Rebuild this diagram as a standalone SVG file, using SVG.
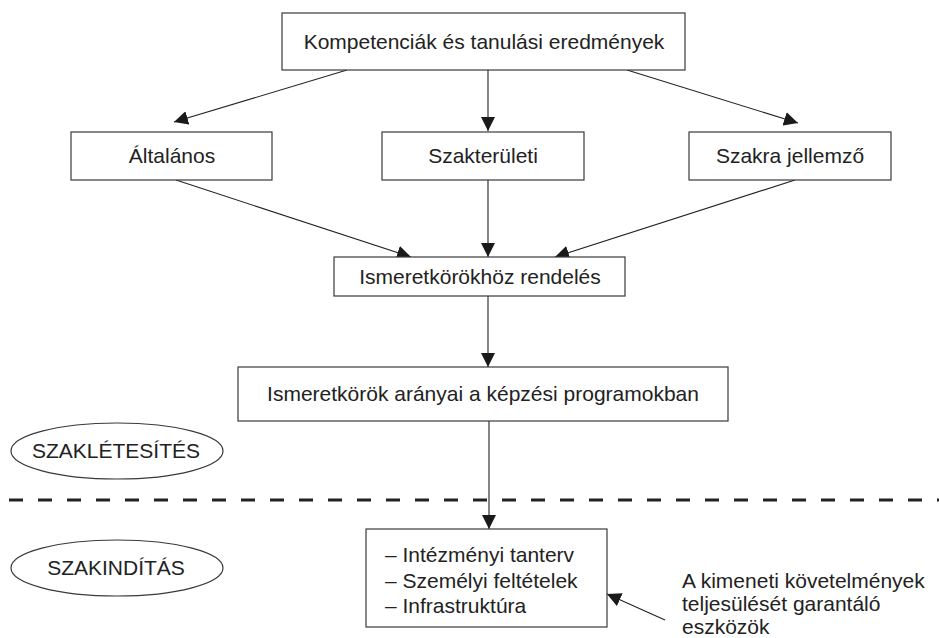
<svg xmlns="http://www.w3.org/2000/svg" width="939" height="638" viewBox="0 0 939 638">
  <defs>
    <marker id="arr" markerUnits="userSpaceOnUse" markerWidth="14" markerHeight="14" viewBox="0 0 13 13" refX="13" refY="6.5" orient="auto">
      <path d="M0,0 L13,6.5 L0,13 z" fill="#1a1a1a"/>
    </marker>
  </defs>
  <style>
    .box { fill: #fff; stroke: #3a3a3a; stroke-width: 1.2; }
    .t { font-family: "Liberation Sans", Arial, Helvetica, sans-serif; font-size: 21px; fill: #222; }
    .c { text-anchor: middle; }
    .ln { stroke: #222; stroke-width: 1.1; fill: none; }
    .arw { marker-end: url(#arr); }
  </style>
  <rect width="939" height="638" fill="#fff"/>

  <g id="connectors">
    <line class="ln arw" x1="347" y1="70" x2="174" y2="122"/>
    <line class="ln arw" x1="488" y1="70" x2="488" y2="131"/>
    <line class="ln arw" x1="627" y1="70" x2="798" y2="123"/>
    <line class="ln arw" x1="176" y1="180" x2="411" y2="257"/>
    <line class="ln arw" x1="488" y1="180" x2="488" y2="257"/>
    <line class="ln arw" x1="795" y1="180" x2="555" y2="257"/>
    <line class="ln arw" x1="488" y1="296" x2="488" y2="367"/>
    <line class="ln arw" x1="489" y1="421" x2="489" y2="529"/>
    <line class="ln arw" x1="665" y1="620" x2="607" y2="594"/>
    <line x1="9" y1="500" x2="939" y2="500" stroke="#222" stroke-width="3" stroke-dasharray="14 15"/>
  </g>

  <g id="n-kompetenciak">
    <rect class="box" x="282" y="13" width="403" height="57"/>
    <text class="t c" x="484" y="49">Kompetenciák és tanulási eredmények</text>
  </g>
  <g id="n-altalanos">
    <rect class="box" x="71" y="132" width="201" height="48"/>
    <text class="t c" x="172" y="163">Általános</text>
  </g>
  <g id="n-szakteruleti">
    <rect class="box" x="382" y="132" width="202" height="48"/>
    <text class="t c" x="483" y="163">Szakterületi</text>
  </g>
  <g id="n-szakra">
    <rect class="box" x="689" y="132" width="202" height="48"/>
    <text class="t c" x="790" y="163">Szakra jellemző</text>
  </g>
  <g id="n-rendeles">
    <rect class="box" x="334" y="257" width="291" height="39"/>
    <text class="t c" x="480" y="284">Ismeretkörökhöz rendelés</text>
  </g>
  <g id="n-aranyai">
    <rect class="box" x="238" y="367" width="490" height="54"/>
    <text class="t c" x="483" y="401">Ismeretkörök arányai a képzési programokban</text>
  </g>
  <g id="n-szakletesites">
    <ellipse class="box" cx="117" cy="451" rx="106" ry="28"/>
    <text class="t c" x="116" y="458">SZAKLÉTESÍTÉS</text>
  </g>
  <g id="n-szakinditas">
    <ellipse class="box" cx="117" cy="568" rx="106" ry="28"/>
    <text class="t c" x="116" y="575">SZAKINDÍTÁS</text>
  </g>
  <g id="n-lista">
    <rect class="box" x="366" y="529" width="241" height="98"/>
    <text class="t" x="385" y="562">– Intézményi tanterv</text>
    <text class="t" x="385" y="588">– Személyi feltételek</text>
    <text class="t" x="385" y="613">– Infrastruktúra</text>
  </g>
  <g id="n-megjegyzes">
    <text class="t" x="682" y="588">A kimeneti követelmények</text>
    <text class="t" x="682" y="611">teljesülését garantáló</text>
    <text class="t" x="682" y="634">eszközök</text>
  </g>
</svg>
